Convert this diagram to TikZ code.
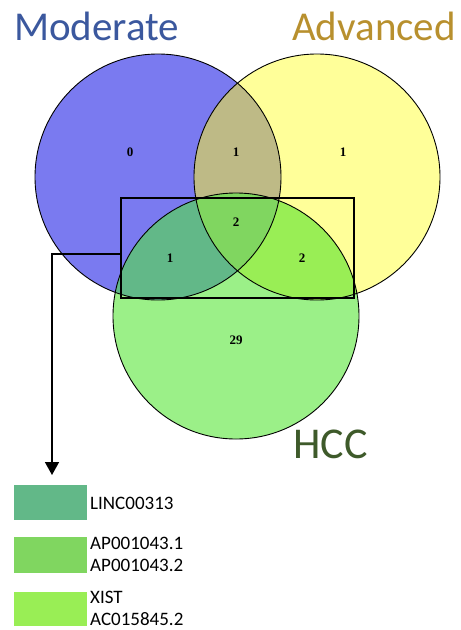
\documentclass[tikz,border=0pt]{standalone}
\usepackage{fontspec}
\usetikzlibrary{arrows.meta}
\setmainfont{Liberation Serif}
\newfontfamily\calib{Carlito}
\definecolor{cblue}{RGB}{122,122,240}
\definecolor{cyel}{RGB}{255,255,153}
\definecolor{cgrn}{RGB}{155,240,136}
\definecolor{ctan}{RGB}{190,186,134}
\definecolor{cteal}{RGB}{98,184,136}
\definecolor{clime}{RGB}{153,238,85}
\definecolor{cmid}{RGB}{128,214,96}
\definecolor{tblue}{RGB}{59,88,158}
\definecolor{tgold}{RGB}{184,144,46}
\definecolor{tgreen}{RGB}{62,90,42}
\tikzset{
  setlabel/.style={font=\calib\fontsize{41}{41}\selectfont, anchor=base west, inner sep=0pt},
  count/.style={font=\bfseries\fontsize{13}{13}\selectfont, inner sep=0pt},
  legbox/.style={minimum width=73pt, minimum height=35pt, inner sep=0pt, anchor=north west},
  legtext/.style={font=\calib\fontsize{19}{19}\selectfont, anchor=base west, inner sep=0pt},
  outline/.style={draw=black, line width=0.9pt},
}
\begin{document}
\begin{tikzpicture}[x=1pt,y=-1pt]
\useasboundingbox (0,0) rectangle (461,630);
\def\R{123}
\coordinate (mod) at (158,177);
\coordinate (adv) at (317,177);
\coordinate (hcc) at (236,316);
% base fills
\fill[cblue] (mod) circle (\R);
\fill[cyel] (adv) circle (\R);
\fill[cgrn] (hcc) circle (\R);
% pairwise overlaps
\begin{scope}
  \clip (mod) circle (\R);
  \fill[ctan] (adv) circle (\R);
  \fill[cteal] (hcc) circle (\R);
\end{scope}
\begin{scope}
  \clip (adv) circle (\R);
  \fill[clime] (hcc) circle (\R);
\end{scope}
\begin{scope}
  \clip (mod) circle (\R);
  \clip (adv) circle (\R);
  \fill[cmid] (hcc) circle (\R);
\end{scope}
\draw[outline] (mod) circle (\R);
\draw[outline] (adv) circle (\R);
\draw[outline] (hcc) circle (\R);
% labels
\node[setlabel, text=tblue] (lmod) at (14,40) {Moderate};
\node[setlabel, text=tgold] (ladv) at (292,40) {Advanced};
\node[setlabel, text=tgreen, font=\calib\fontsize{44}{44}\selectfont] (lhcc) at (293,458) {HCC};
% counts
\node[count] (n1) at (130,152) {0};
\node[count] (n2) at (236,152) {1};
\node[count] (n3) at (343,152) {1};
\node[count] (n4) at (236,222) {2};
\node[count] (n5) at (170,258) {1};
\node[count] (n6) at (302,258) {2};
\node[count] (n7) at (236,340) {29};
% highlight box
\node[draw=black, line width=1.8pt, minimum width=233pt, minimum height=100pt, inner sep=0pt, anchor=north west] (box) at (120,197) {};
% legend
\node[legbox, fill=cteal] (lg1) at (14,485) {};
\node[legbox, fill=cmid, minimum height=36pt] (lg2) at (14,537) {};
\node[legbox, fill=clime, minimum height=34pt] (lg3) at (14,592) {};
\node[legtext] (t1) at (90,509) {LINC00313};
\node[legtext] (t2a) at (90,549) {AP001043.1};
\node[legtext] (t2b) at (90,571) {AP001043.2};
\node[legtext] (t3a) at (90,603) {XIST};
\node[legtext] (t3b) at (90,625) {AC015845.2};
% connector
\coordinate (bend) at (52,254);
\coordinate (tip) at (52,475);
\draw[line width=1.6pt, -{Triangle[length=13pt,width=14pt]}] (box.west |- bend) -- (bend) -- (tip);
\end{tikzpicture}
\end{document}
